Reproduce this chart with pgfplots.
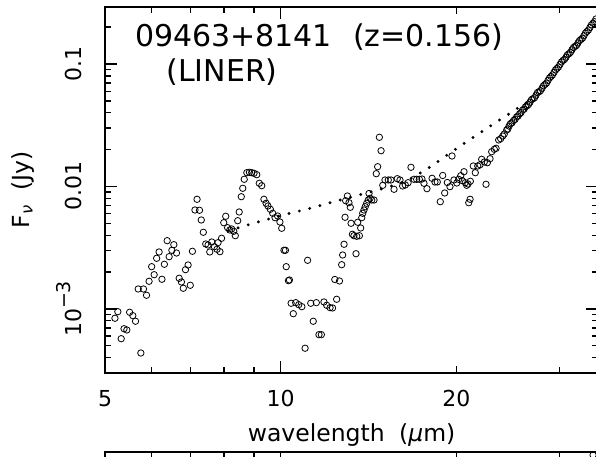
\documentclass[border=0pt]{standalone}
\usepackage{pgfplots}
\pgfplotsset{compat=1.18}
\usepackage{fontspec}
\setmainfont{DejaVu Sans}
\begin{document}
\begin{tikzpicture}
\path[use as bounding box] (0pt,0pt) rectangle (596pt,456pt);
\clip (0pt,0pt) rectangle (596pt,456pt);
\begin{axis}[
  at={(105pt,83pt)}, anchor=south west,
  scale only axis, width=493.2pt, height=366pt,
  xmode=log, xmin=5, xmax=35,
  ymode=log, ymin=3.0e-4, ymax=0.292,
  axis line style={line width=1.9pt},
  tick style={line width=1.3pt, black},
  tick align=inside,
  major tick length=12pt, minor tick length=6pt,
  xtick={10}, minor xtick={6,7,8,9,30},
  xticklabels={10},
  extra x ticks={5,20}, extra x tick labels={5,20},
  extra x tick style={major tick length=7pt},
  tick label style={font=\fontsize{22}{26}\selectfont},
  xticklabel style={anchor=north, inner sep=0pt},
  xticklabel shift=17pt,
  ytick={0.001,0.01,0.1},
  yticklabels={10\raisebox{0.5em}{\fontsize{19}{22}\selectfont −3},0.01,0.1},
  minor ytick={4e-4,5e-4,6e-4,7e-4,8e-4,9e-4,2e-3,3e-3,4e-3,5e-3,6e-3,7e-3,8e-3,9e-3,0.02,0.03,0.04,0.05,0.06,0.07,0.08,0.09,0.2},
  yticklabel style={rotate=90, anchor=south, inner sep=0pt},
  yticklabel shift=23pt,
  xlabel={wavelength\hspace{0.3em} (\textit{μ}m)},
  ylabel={F\textsubscript{\textit{ν}}\hspace{0.3em} (Jy)},
  every axis x label/.style={at={(axis description cs:0.5,0)}, yshift=-68pt, anchor=base, font=\fontsize{23.5}{28}\selectfont},
  every axis y label/.style={at={(axis description cs:0,0.5)}, xshift=-76pt, rotate=90, anchor=base, font=\fontsize{23.5}{28}\selectfont},
]
\addplot[black, only marks, mark=o, mark size=3.2pt, mark options={line width=0.8pt}] table {
5.20 0.000840
5.26 0.000950
5.33 0.000572
5.39 0.000690
5.45 0.000674
5.51 0.000940
5.58 0.000882
5.64 0.000794
5.70 0.001456
5.76 0.000437
5.82 0.001456
5.89 0.001294
5.95 0.001683
6.01 0.002215
6.07 0.001905
6.13 0.002593
6.19 0.002920
6.26 0.001748
6.32 0.002317
6.39 0.003611
6.44 0.002673
6.51 0.003014
6.56 0.003349
6.63 0.002865
6.70 0.001781
6.76 0.001661
6.81 0.001476
6.87 0.002093
6.94 0.002286
7.00 0.001561
7.06 0.002958
7.13 0.006428
7.19 0.007862
7.26 0.006393
7.31 0.005327
7.37 0.004228
7.44 0.003393
7.51 0.003330
7.56 0.002920
7.62 0.003523
7.70 0.003225
7.78 0.003071
7.81 0.003477
7.87 0.002936
7.92 0.003777
7.99 0.005063
8.05 0.005711
8.11 0.004609
8.18 0.004415
8.24 0.004498
8.31 0.004308
8.36 0.003966
8.44 0.005258
8.49 0.006192
8.56 0.008254
8.61 0.009667
8.66 0.011448
8.75 0.012961
8.84 0.013060
8.92 0.012961
9.00 0.012816
9.10 0.012483
9.19 0.010620
9.28 0.010152
9.36 0.007862
9.44 0.007292
9.51 0.006931
9.60 0.006514
9.69 0.006043
9.78 0.005563
9.88 0.005743
9.97 0.005131
10.04 0.004558
10.13 0.003014
10.19 0.003014
10.22 0.002215
10.31 0.001702
10.35 0.001725
10.42 0.001113
10.51 0.000915
10.61 0.001126
10.74 0.001084
10.87 0.001044
11.01 0.000478
11.12 0.002497
11.26 0.001113
11.37 0.000794
11.51 0.001126
11.63 0.000617
11.74 0.000617
11.86 0.001141
11.99 0.001072
12.15 0.001025
12.27 0.001019
12.38 0.001741
12.47 0.001200
12.61 0.001693
12.72 0.002299
12.77 0.002759
12.84 0.003374
12.89 0.005605
12.92 0.007657
13.01 0.008364
13.09 0.007374
13.16 0.006764
13.20 0.005007
13.27 0.004072
13.35 0.003966
13.46 0.002827
13.50 0.003922
13.55 0.005102
13.64 0.003966
13.71 0.004583
13.77 0.005563
13.82 0.006043
13.89 0.006428
13.96 0.006840
14.04 0.007292
14.13 0.007759
14.17 0.008767
14.23 0.008011
14.32 0.007759
14.45 0.007759
14.58 0.012720
14.66 0.014508
14.76 0.025214
14.86 0.019601
14.96 0.010227
15.09 0.011299
15.29 0.011299
15.45 0.011299
15.64 0.009487
15.84 0.011579
16.01 0.011299
16.18 0.010095
16.35 0.010286
16.53 0.010740
16.72 0.014346
16.92 0.011448
17.10 0.011448
17.28 0.011448
17.46 0.011513
17.60 0.010620
17.81 0.009594
18.17 0.011666
18.38 0.010884
18.55 0.010884
18.77 0.007515
18.95 0.012297
19.10 0.008850
19.30 0.010781
19.50 0.009962
19.66 0.017739
19.81 0.011299
20.03 0.010679
20.18 0.011448
20.35 0.012251
20.47 0.011152
20.61 0.013207
20.72 0.010740
20.83 0.010227
20.94 0.010482
21.00 0.007374
21.11 0.007862
21.13 0.011026
21.38 0.014700
21.55 0.012961
21.76 0.014700
21.96 0.015064
22.10 0.016672
22.33 0.015848
22.48 0.010421
22.60 0.015641
22.84 0.016863
22.99 0.019233
23.23 0.020123
23.39 0.020502
23.63 0.023964
23.82 0.024560
24.01 0.025836
24.16 0.026826
24.39 0.028919
24.50 0.02950
24.62 0.031119
24.76 0.03260
24.91 0.033175
25.06 0.03460
25.21 0.035294
25.36 0.03690
25.51 0.037630
25.66 0.03920
25.81 0.040114
25.96 0.04200
26.12 0.042759
26.27 0.04470
26.43 0.045667
26.58 0.04660
26.74 0.048772
26.90 0.05120
27.06 0.052084
27.22 0.05300
27.38 0.055625
27.54 0.05850
27.71 0.059410
27.87 0.06050
28.04 0.063451
28.20 0.06650
28.37 0.068146
28.54 0.06980
28.71 0.073472
28.88 0.07700
29.05 0.079210
29.22 0.08150
29.40 0.085394
29.57 0.08950
29.75 0.092063
29.92 0.09450
30.10 0.099253
30.28 0.10400
30.46 0.10700
30.64 0.10900
30.82 0.11363
31.00 0.11900
31.19 0.12136
31.37 0.12450
31.56 0.13059
31.75 0.13650
31.94 0.13921
32.13 0.14200
32.32 0.14868
32.51 0.15550
32.70 0.15879
32.89 0.16250
33.09 0.17024
33.28 0.17900
33.48 0.18422
33.68 0.18950
33.88 0.19897
34.08 0.20900
34.29 0.21530
34.49 0.22150
34.69 0.23300
};
\addplot[black, mark=none, line width=3.2pt, line cap=round, dash pattern=on 0pt off 10.6pt] table {
8.12 0.004332
8.97 0.005007
10.25 0.005963
11.18 0.006588
12.24 0.007445
13.35 0.008318
14.62 0.009310
15.95 0.010540
16.59 0.011363
17.26 0.012720
17.95 0.014237
18.68 0.016240
19.39 0.018420
20.13 0.020815
21.72 0.026476
23.43 0.033617
25.31 0.042676
26.53 0.049415
};
\end{axis}
\begin{axis}[
  at={(105pt,4pt)}, anchor=north west,
  scale only axis, width=493.2pt, height=366pt,
  xmode=log, xmin=5, xmax=35,
  ymode=log, ymin=1e-3, ymax=1, ytick=\empty,
  axis line style={line width=1.9pt},
  tick style={line width=1.3pt, black},
  tick align=inside,
  major tick length=12pt, minor tick length=6pt,
  xtick={10}, minor xtick={6,7,8,9,30},
  xticklabels={},
  extra x ticks={5,20}, extra x tick labels={},
  extra x tick style={major tick length=7pt},
]
\addplot[black, only marks, mark=o, mark size=3.2pt, mark options={line width=0.8pt}] table {
34.3 0.945
};
\end{axis}
\node[anchor=base west, inner sep=0pt, font=\fontsize{30}{36}\selectfont] at (135pt,409pt) {09463+8141\hspace{0.7em}(z=0.156)};
\node[anchor=base, inner sep=0pt, font=\fontsize{30}{36}\selectfont] at (222pt,374pt) {(LINER)};
\end{tikzpicture}
\end{document}
